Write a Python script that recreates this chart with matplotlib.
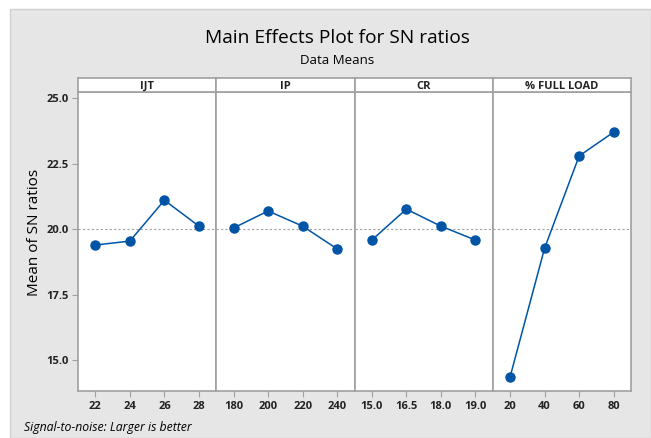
import matplotlib
matplotlib.use('Agg')
import matplotlib.pyplot as plt
from matplotlib.patches import Rectangle

plt.rcParams['font.family'] = ['Open Sans', 'DejaVu Sans']

# 因子名称与水平
factors = ['IJT', 'IP', 'CR', '% FULL LOAD']
levels = [['22', '24', '26', '28'],
          ['180', '200', '220', '240'],
          ['15.0', '16.5', '18.0', '19.0'],
          ['20', '40', '60', '80']]
# 各水平的SN比均值
ijtMeans = [19.39, 19.54, 21.10, 20.11]
ipMeans = [20.04, 20.69, 20.11, 19.24]
crMeans = [19.58, 20.76, 20.11, 19.58]
loadMeans = [14.35, 19.27, 22.79, 23.70]
allMeans = [ijtMeans, ipMeans, crMeans, loadMeans]
grandMean = 20.0
yTicks = [15.0, 17.5, 20.0, 22.5, 25.0]

W, H = 651, 438
fig = plt.figure(figsize=(W / 100, H / 100), dpi=100)
fig.patch.set_facecolor('white')
# 灰色背景
bg = Rectangle((10 / W, 0), 1 - 10 / W, 1 - 9 / H, transform=fig.transFigure,
               facecolor='#e6e6e6', edgecolor='#d0d0d0', lw=1, zorder=-10)
fig.patches.append(bg)

left, right = 78, 631
bottom, top = 391, 92
stripTop = 78
pw = (right - left) / 4
frameColor = '#a0a0a0'

for i in range(4):
    x0 = left + i * pw
    ax = fig.add_axes([x0 / W, 1 - bottom / H, pw / W, (bottom - top) / H])
    ax.set_facecolor('white')
    xs = list(range(1, 5))
    ax.axhline(grandMean, color='#a0a0a0', ls=(0, (2, 2)), lw=0.8, zorder=1)
    ax.plot(xs, allMeans[i], color='#0054a6', lw=1.1, marker='o', ms=6.5,
            mfc='#0054a6', mec='#0054a6', zorder=3)
    ax.set_xlim(0.5, 4.5)
    ax.set_ylim(13.82, 25.23)
    ax.set_xticks(xs)
    ax.set_xticklabels(levels[i], fontsize=8, fontweight='bold', color='#222222')
    ax.set_yticks(yTicks)
    if i == 0:
        ax.set_yticklabels(['%.1f' % v for v in yTicks], fontsize=8, fontweight='bold',
                           color='#222222')
    else:
        ax.tick_params(axis='y', left=False, labelleft=False)
    ax.tick_params(axis='both', color=frameColor, length=4, width=0.8, pad=3)
    for s in ax.spines.values():
        s.set_color(frameColor)
        s.set_linewidth(1.2)

    # 顶部标签条
    sax = fig.add_axes([x0 / W, 1 - top / H, pw / W, (top - stripTop) / H])
    sax.set_facecolor('white')
    sax.set_xticks([])
    sax.set_yticks([])
    for s in sax.spines.values():
        s.set_color(frameColor)
        s.set_linewidth(1.2)
    sax.text(0.5, 0.42, factors[i], ha='center', va='center', fontsize=8,
             fontweight='bold', color='#222222', transform=sax.transAxes)

fig.text(337 / W, 1 - 38 / H, 'Main Effects Plot for SN ratios', ha='center', va='center',
         fontsize=13.8, fontweight='medium')
fig.text(337 / W, 1 - 60 / H, 'Data Means', ha='center', va='center', fontsize=9.5,
         fontweight='medium')
fig.text(35 / W, 1 - 232 / H, 'Mean of SN ratios', ha='center', va='center',
         rotation=90, fontsize=11)
fig.text(24 / W, 1 - 427 / H, 'Signal-to-noise: Larger is better', ha='left', va='center',
         fontsize=8.8, style='italic')

fig.savefig('out.png', dpi=100, facecolor=fig.get_facecolor())
